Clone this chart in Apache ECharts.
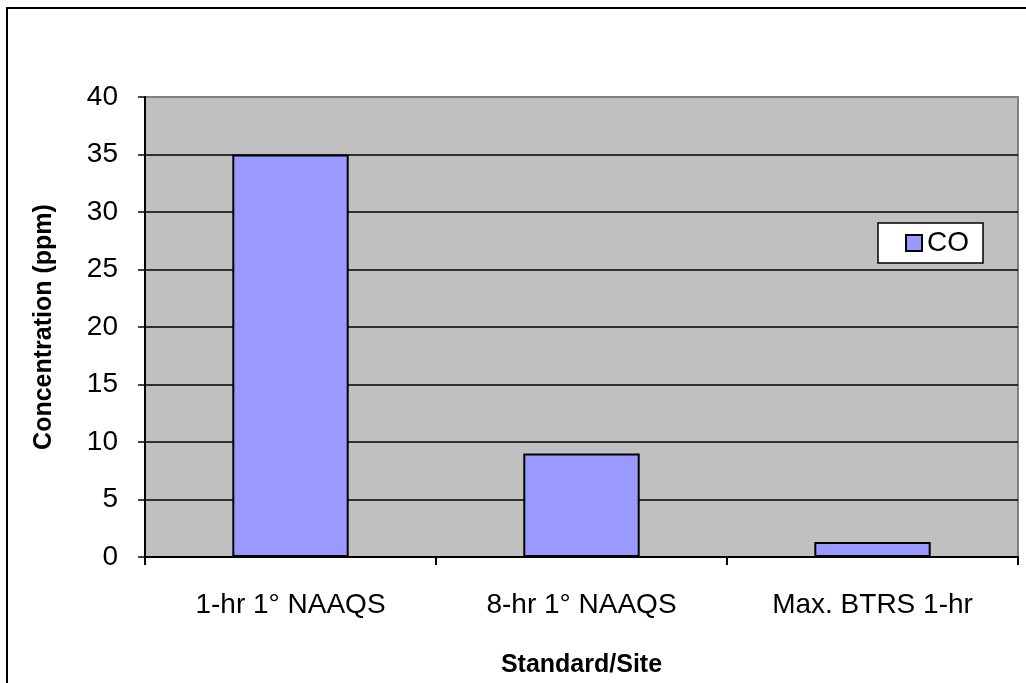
<!DOCTYPE html>
<html>
<head>
<meta charset="utf-8">
<script src="https://cdn.jsdelivr.net/npm/echarts@6/dist/echarts.min.js"></script>
<style>
html,body{margin:0;padding:0;background:#fff;}
#chart{width:1026px;height:683px;}
</style>
</head>
<body>
<div id="chart"></div>
<script>
var categories = ['1-hr 1° NAAQS', '8-hr 1° NAAQS', 'Max. BTRS 1-hr'];
var coValues = [35, 9, 1.3];
var yTicks = { min: 0, max: 40, interval: 5 };
var seriesName = 'CO';
var xTitle = 'Standard/Site';
var yTitle = 'Concentration (ppm)';

var FONT = '"Liberation Sans", Arial, sans-serif';
var chart = echarts.init(document.getElementById('chart'), null, { renderer: 'canvas' });
chart.setOption({
  animation: false,
  backgroundColor: '#ffffff',
  textStyle: { fontFamily: FONT },
  graphic: [{
    type: 'rect',
    shape: { x: 7, y: 8, width: 1040, height: 700 },
    style: { fill: 'none', stroke: '#000', lineWidth: 2 },
    z: 100
  }],
  grid: {
    left: 145, top: 97, width: 873, height: 460,
    show: true, backgroundColor: '#C0C0C0', borderColor: '#808080', borderWidth: 2
  },
  legend: {
    left: 878, top: 223,
    data: [seriesName],
    orient: 'vertical',
    backgroundColor: '#ffffff',
    borderColor: '#000', borderWidth: 1.5,
    padding: [6, 14, 6, 27],
    itemWidth: 16, itemHeight: 16, itemGap: 0,
    icon: 'rect',
    textStyle: { fontSize: 28, color: '#000', fontFamily: FONT, padding: [0, 0, 0, 0] }
  },
  xAxis: {
    type: 'category',
    data: categories,
    boundaryGap: true,
    name: xTitle,
    nameLocation: 'middle',
    nameGap: 96,
    nameTextStyle: { fontSize: 25, fontWeight: 'bold', color: '#000', fontFamily: FONT, verticalAlign: 'top' },
    axisLine: { lineStyle: { color: '#000', width: 2 } },
    axisTick: { show: true, length: 8, alignWithLabel: false, lineStyle: { color: '#000', width: 2 } },
    axisLabel: { fontSize: 28, color: '#000', margin: 34, fontFamily: FONT },
    splitLine: { show: false }
  },
  yAxis: {
    type: 'value',
    min: yTicks.min, max: yTicks.max, interval: yTicks.interval,
    name: yTitle,
    nameLocation: 'middle',
    nameGap: 88,
    nameTextStyle: { fontSize: 25, fontWeight: 'bold', color: '#000', fontFamily: FONT },
    axisLine: { show: true, lineStyle: { color: '#000', width: 2 } },
    axisTick: { show: true, length: 7, lineStyle: { color: '#000', width: 1.5 } },
    axisLabel: { fontSize: 28, color: '#000', margin: 27, fontFamily: FONT },
    splitLine: { show: true, lineStyle: { color: ['#000', '#000', '#000', '#000', '#000', '#000', '#000', '#000', '#808080'], width: 1.5 } }
  },
  series: [{
    name: seriesName,
    type: 'bar',
    data: coValues,
    barWidth: '40%',
    itemStyle: { color: '#9999FF', borderColor: '#000', borderWidth: 2 }
  }]
});
</script>
</body>
</html>
